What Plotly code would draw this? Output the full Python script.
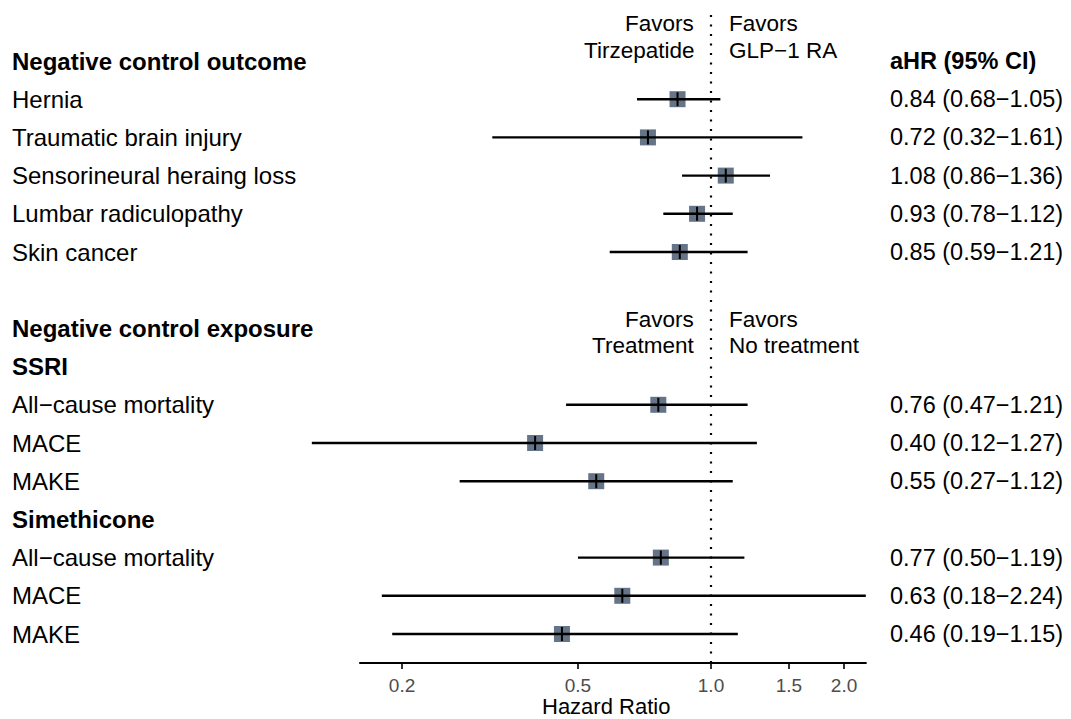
import plotly.graph_objects as go

# ---------------- data ----------------
row_labels = ["Negative control outcome", "Hernia", "Traumatic brain injury",
              "Sensorineural heraing loss", "Lumbar radiculopathy", "Skin cancer", "",
              "Negative control exposure", "SSRI", "All\u2212cause mortality", "MACE", "MAKE",
              "Simethicone", "All\u2212cause mortality", "MACE", "MAKE"]
bold_rows = [0, 7, 8, 12]
hr = [None, 0.84, 0.72, 1.08, 0.93, 0.85, None, None, None, 0.76, 0.40, 0.55, None, 0.77, 0.63, 0.46]
ci_lo = [None, 0.68, 0.32, 0.86, 0.78, 0.59, None, None, None, 0.47, 0.125, 0.27, None, 0.50, 0.18, 0.19]
ci_hi = [None, 1.05, 1.61, 1.36, 1.12, 1.21, None, None, None, 1.21, 1.27, 1.12, None, 1.19, 2.24, 1.15]
ahr_text = ["aHR (95% CI)", "0.84 (0.68\u22121.05)", "0.72 (0.32\u22121.61)", "1.08 (0.86\u22121.36)",
            "0.93 (0.78\u22121.12)", "0.85 (0.59\u22121.21)", "", "", "",
            "0.76 (0.47\u22121.21)", "0.40 (0.12\u22121.27)", "0.55 (0.27\u22121.12)", "",
            "0.77 (0.50\u22121.19)", "0.63 (0.18\u22122.24)", "0.46 (0.19\u22121.15)"]
tick_vals = [0.2, 0.5, 1.0, 1.5, 2.0]
tick_text = ["0.2", "0.5", "1.0", "1.5", "2.0"]
axis_limits = [0.16, 2.25]
favors_top = [("Favors", "Tirzepatide"), ("Favors", "GLP\u22121 RA")]
favors_mid = [("Favors", "Treatment"), ("Favors", "No treatment")]

# ---------------- layout geometry ----------------
# the page body has an 8px margin; shift everything so it lands where the reference has it
OFF = 8
W, H = 1071 - OFF, 719 - OFF
B = 56
plot_h = H - B
row0_px, row_step = 61.0 - OFF, 38.2
x_ref_px, px_per_decade = 711.0 - OFF, 442.0

y_top = (0 - row0_px) / row_step
y_bot = (plot_h - row0_px) / row_step
x_lo = (0 - x_ref_px) / px_per_decade
x_hi = (W - x_ref_px) / px_per_decade

def xp(px):
    return (px - OFF) / W

def yp(py):
    return 1 - (py - OFF) / plot_h

FONT = "Liberation Sans, Arial, Helvetica, sans-serif"
BOX = "#657487"

idx = [i for i, v in enumerate(hr) if v is not None]
px_ = [hr[i] for i in idx]
py_ = [i for i in idx]

lx, ly = [], []
for i in idx:
    lx += [ci_lo[i], ci_hi[i], None]
    ly += [i, i, None]

fig = go.Figure()
fig.add_trace(go.Scatter(x=px_, y=py_, mode="markers",
                         marker=dict(symbol="square", size=16, color=BOX, line=dict(width=0)),
                         hoverinfo="skip", showlegend=False))
fig.add_trace(go.Scatter(x=lx, y=ly, mode="lines", line=dict(color="black", width=2.4),
                         hoverinfo="skip", showlegend=False))
fig.add_trace(go.Scatter(x=px_, y=py_, mode="markers",
                         marker=dict(symbol="line-ns", size=10, color="black",
                                     line=dict(color="black", width=2)),
                         hoverinfo="skip", showlegend=False))

anns = []
for i, lab in enumerate(row_labels):
    if not lab:
        continue
    txt = f"<b>{lab}</b>" if i in bold_rows else lab
    anns.append(dict(x=xp(10), y=i, xref="paper", yref="y", text=txt, showarrow=False,
                     xanchor="left", yanchor="middle", font=dict(family=FONT, size=24, color="black")))
for i, t in enumerate(ahr_text):
    if not t:
        continue
    txt = f"<b>{t}</b>" if i == 0 else t
    anns.append(dict(x=xp(888), y=i, xref="paper", yref="y", text=txt, showarrow=False,
                     xanchor="left", yanchor="middle", font=dict(family=FONT, size=23.5, color="black")))

def add_favors(pair, y1px, y2px):
    (l1, l2), (r1, r2) = pair
    for t, ypx in ((l1, y1px), (l2, y2px)):
        anns.append(dict(x=xp(696), y=yp(ypx), xref="paper", yref="paper", text=t,
                         showarrow=False, xanchor="right", yanchor="middle",
                         font=dict(family=FONT, size=22.5, color="black")))
    for t, ypx in ((r1, y1px), (r2, y2px)):
        anns.append(dict(x=xp(727), y=yp(ypx), xref="paper", yref="paper", text=t,
                         showarrow=False, xanchor="left", yanchor="middle",
                         font=dict(family=FONT, size=22.5, color="black")))

add_favors(favors_top, 23, 50)
add_favors(favors_mid, 319, 346)

anns.append(dict(x=xp(606), y=yp(706), xref="paper", yref="paper",
                 text="Hazard Ratio", showarrow=False, xanchor="center", yanchor="middle",
                 font=dict(family=FONT, size=22, color="black")))

shapes = [
    dict(type="line", xref="x", yref="paper", x0=1, x1=1, y0=0, y1=yp(10),
         line=dict(color="black", width=2.2, dash="2px,7.5px"), layer="below"),
    dict(type="line", xref="x", yref="paper", x0=axis_limits[0], x1=axis_limits[1], y0=0, y1=0,
         line=dict(color="black", width=2)),
]

fig.update_layout(
    width=W, height=H,
    margin=dict(l=0, r=0, t=0, b=B),
    paper_bgcolor="white", plot_bgcolor="white",
    annotations=anns, shapes=shapes,
    xaxis=dict(type="log", range=[x_lo, x_hi], showgrid=False, zeroline=False, showline=False,
               tickvals=tick_vals, ticktext=tick_text, ticks="outside", ticklen=5, tickwidth=1.6,
               tickcolor="#333333", tickfont=dict(family=FONT, size=19, color="#4d4d4d"),
               ticklabelstandoff=0, fixedrange=True),
    yaxis=dict(range=[y_bot, y_top], visible=False, showgrid=False, zeroline=False, fixedrange=True),
)

fig.write_html("out.html")
